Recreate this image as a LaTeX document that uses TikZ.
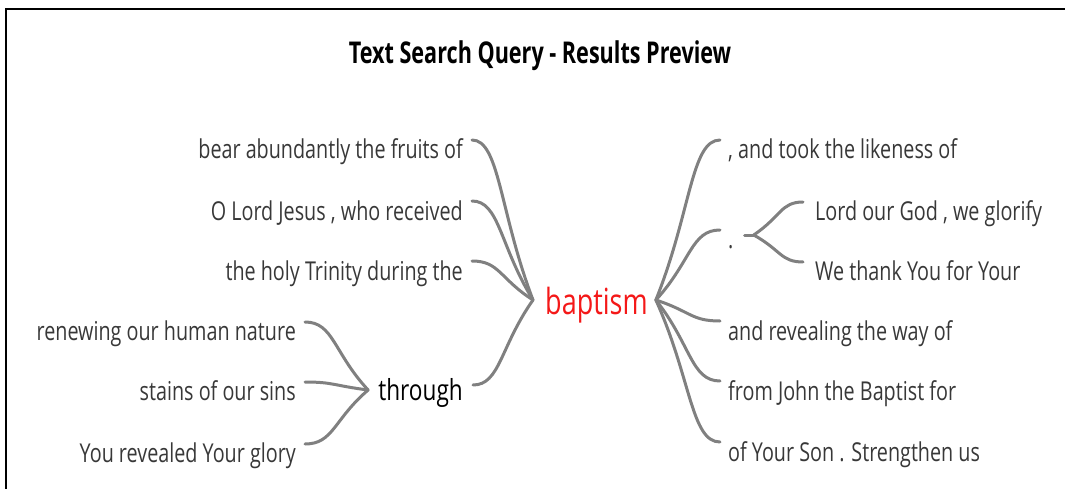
\documentclass[tikz,border=0pt]{standalone}
\usepackage{fontspec}
\setmainfont{Open Sans}
\usetikzlibrary{calc}
\definecolor{leafgray}{HTML}{383838}
\definecolor{linkgray}{HTML}{808080}
\definecolor{keyred}{HTML}{F41818}
\newcommand{\narrow}[2][0.76]{\scalebox{#1}[1]{#2}}
\tikzset{
  leaf/.style={inner sep=0pt, text=leafgray, font=\fontsize{26}{31}\selectfont},
  hub/.style={inner sep=0pt, text=black, font=\fontsize{29}{34}\selectfont},
  link/.style={draw=linkgray, line width=3pt, line cap=round},
  branch/.style={to path={let \p1=(\tikztostart), \p2=(\tikztotarget) in
    .. controls ({\x1+0.45*(\x2-\x1)},\y1) and ({\x1+0.45*(\x2-\x1)},{\y1+0.45*(\y2-\y1)}) .. (\tikztotarget)}},
}
\begin{document}
\begin{tikzpicture}[x=1pt,y=-1pt]
\useasboundingbox (0,0) rectangle (1065,489);
% frame (top and left edges)
\draw[line width=2.5pt] (6,489) -- (6,9) -- (1065,9);

% title
\node[inner sep=0pt, anchor=base, font=\bfseries\fontsize{30}{36}\selectfont] (title) at (540,64) {\narrow[0.72]{Text Search Query - Results Preview}};

% central keyword
\node[inner sep=0pt, anchor=base west, text=keyred, font=\fontsize{36}{42}\selectfont] (key) at (545,314) {\narrow[0.75]{baptism}};
\coordinate (jl) at ([xshift=-12pt]key.west |- 0,300);
\coordinate (jr) at ([xshift=8pt]key.east |- 0,300);

% left side
\node[leaf, anchor=base east] (l1) at (463,159) {\narrow{bear abundantly the fruits of}};
\node[leaf, anchor=base east] (l2) at (463,220) {\narrow{O Lord Jesus , who received}};
\node[leaf, anchor=base east] (l3) at (463,280) {\narrow{the holy Trinity during the}};
\node[hub, anchor=base east] (thr) at (463,400) {\narrow[0.78]{through}};
\node[leaf, anchor=base east] (t1) at (296,340) {\narrow{renewing our human nature}};
\node[leaf, anchor=base east] (t2) at (296,400) {\narrow{stains of our sins}};
\node[leaf, anchor=base east] (t3) at (296,462) {\narrow{You revealed Your glory}};
\coordinate (jt) at ([xshift=-10pt]thr.west |- 0,390);

% right side
\node[leaf, anchor=base west] (r1) at (728,159) {\narrow{, and took the likeness of}};
\node[leaf, anchor=base west] (r2) at (728,248) {\narrow{.}};
\node[leaf, anchor=base west] (r3) at (728,340) {\narrow{and revealing the way of}};
\node[leaf, anchor=base west] (r4) at (728,400) {\narrow{from John the Baptist for}};
\node[leaf, anchor=base west] (r5) at (728,461) {\narrow{of Your Son . Strengthen us}};
\node[leaf, anchor=base west] (s1) at (815,220) {\narrow{Lord our God , we glorify}};
\node[leaf, anchor=base west] (s2) at (815,280) {\narrow{We thank You for Your}};
\coordinate (jd) at ([xshift=20pt,yshift=13pt]r2.base east);

% connectors into the keyword
\foreach \n in {l1,l2,l3}
  \draw[link] ([shift={(9pt,19pt)}]\n.base east) to[branch] (jl);
\draw[link] ([shift={(10pt,15pt)}]thr.base east) to[branch] (jl);
\foreach \n in {r1,r3,r4,r5}
  \draw[link] ([shift={(-8pt,19pt)}]\n.base west) to[branch] (jr);
\draw[link] ([shift={(-8pt,18pt)}]r2.base west) to[branch] (jr);

% connectors into the sub-hubs
\foreach \n in {t1,t2,t3}
  \draw[link] ([shift={(9pt,18pt)}]\n.base east) to[branch] (jt);
\foreach \n in {s1,s2}
  \draw[link] ([shift={(-12pt,18pt)}]\n.base west) to[branch] (jd);
\draw[link] (jd) -- ++(-9pt,0);
\end{tikzpicture}
\end{document}
